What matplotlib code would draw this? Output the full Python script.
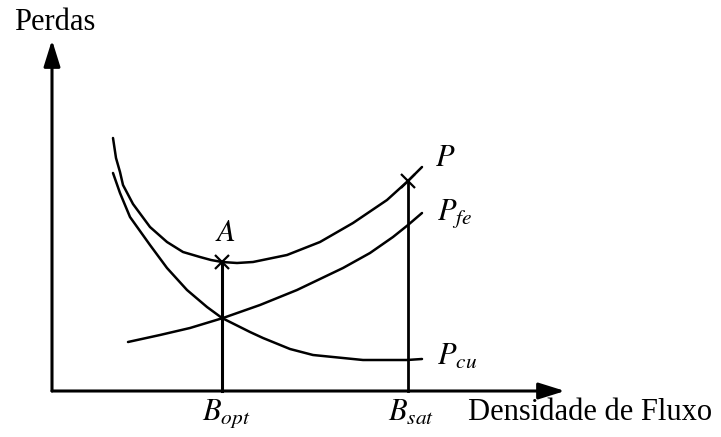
import matplotlib
matplotlib.use("Agg")
import matplotlib.pyplot as plt

plt.rcParams['font.family'] = ['Liberation Serif', 'DejaVu Serif']
plt.rcParams['mathtext.fontset'] = 'stix'

# curves (x = flux density, y = losses, arbitrary units)
b_total = [61, 64, 68, 71, 81, 98, 115, 131, 148, 159, 170, 185, 201, 235, 268, 301, 335, 356, 370]
p_total = [253, 233, 219, 206, 187, 164, 149, 139, 134, 131, 129, 128, 129, 136, 149, 168, 191, 210, 224]

b_cu = [61, 68, 78, 88, 98, 115, 135, 155, 170, 198, 211, 238, 261, 311, 355, 370]
p_cu = [218, 198, 174, 160, 146, 123, 101, 84, 73, 59, 53, 42, 36, 31, 31, 32]

b_fe = [76, 108, 138, 171, 208, 245, 291, 318, 341, 356, 370]
p_fe = [49, 56, 63, 73, 86, 101, 123, 138, 154, 166, 178]

b_opt = 170
b_sat = 356
p_opt = 129
p_sat = 210

fig = plt.figure(figsize=(7.21, 4.37), dpi=100)
ax = fig.add_axes([0, 0, 1, 1])
ax.set_xlim(-52, 669)
ax.set_ylim(-46, 391)
ax.axis('off')

# axes with arrows
arrow = dict(arrowstyle='-|>,head_length=1.6,head_width=0.5', lw=2.2,
             color='black', mutation_scale=10, shrinkA=0, shrinkB=0)
ax.annotate('', xy=(0, 351), xytext=(0, 0), arrowprops=arrow)
ax.annotate('', xy=(513, 0), xytext=(0, 0), arrowprops=arrow)

# curves
for xs, ys in [(b_total, p_total), (b_cu, p_cu), (b_fe, p_fe)]:
    ax.plot(xs, ys, color='black', lw=1.8, solid_capstyle='round',
            solid_joinstyle='round')

# verticals and markers
ax.plot([b_opt, b_opt], [0, p_opt], color='black', lw=2.2)
ax.plot([b_sat, b_sat], [0, p_sat], color='black', lw=2.0)
ax.plot([b_opt, b_sat], [p_opt, p_sat], linestyle='none', marker='x',
        markersize=10, mew=1.6, color='black')

# labels
ax.text(-38, 369, 'Perdas', fontsize=22, ha='left', va='center')
ax.text(416, -22, 'Densidade de Fluxo', fontsize=22, ha='left', va='center')
ax.text(b_opt + 3, p_opt + 14, '$A$', fontsize=22, ha='center', va='bottom')
ax.text(383, 233, '$P$', fontsize=22, ha='left', va='center')
ax.text(385, 178, '$P_{fe}$', fontsize=22, ha='left', va='center')
ax.text(385, 34, '$P_{cu}$', fontsize=22, ha='left', va='center')
ax.text(b_opt + 4, -22, '$B_{opt}$', fontsize=22, ha='center', va='center')
ax.text(b_sat + 3, -22, '$B_{sat}$', fontsize=22, ha='center', va='center')

fig.savefig('out.png', dpi=100)
